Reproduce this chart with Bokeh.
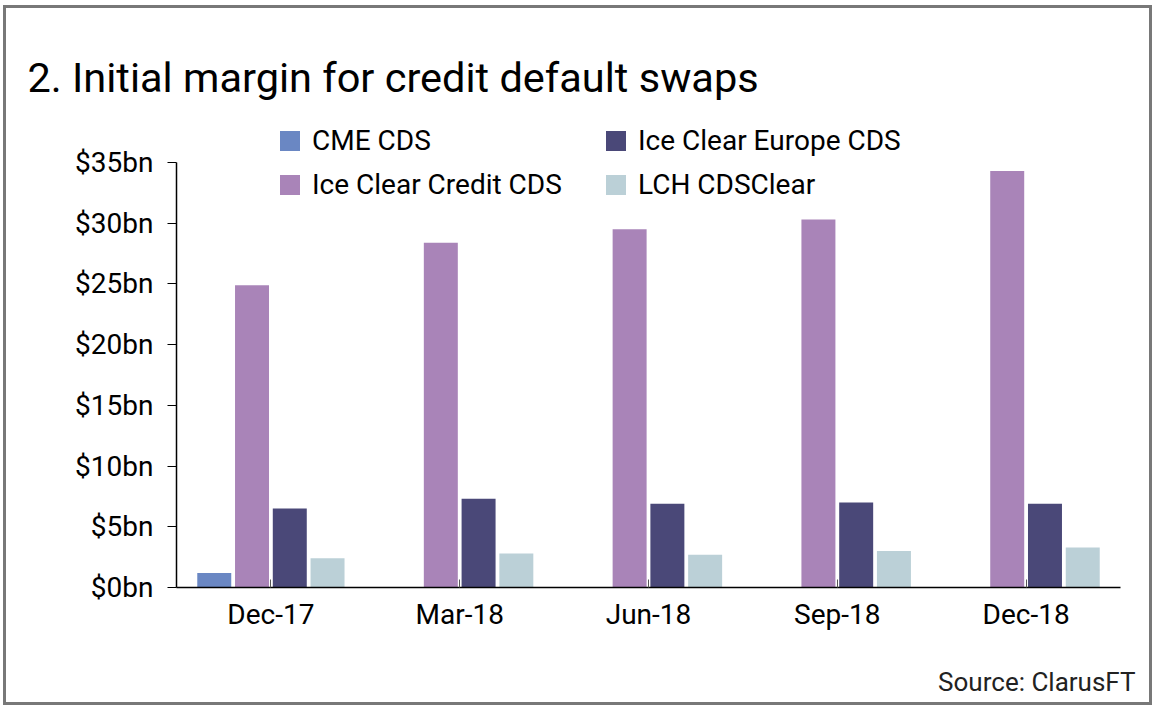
from bokeh.plotting import figure
from bokeh.models import (ColumnDataSource, FactorRange, Range1d, FixedTicker,
                          PrintfTickFormatter, Legend, LegendItem, Title)
from bokeh.transform import dodge
from bokeh.embed import file_html
from bokeh.resources import INLINE

# ---- data ----
dates = ["Dec-17", "Mar-18", "Jun-18", "Sep-18", "Dec-18"]
cme_cds = [1.2, 0.0, 0.0, 0.0, 0.0]
ice_clear_credit_cds = [24.9, 28.4, 29.5, 30.3, 34.3]
ice_clear_europe_cds = [6.5, 7.3, 6.9, 7.0, 6.9]
lch_cdsclear = [2.4, 2.8, 2.7, 3.0, 3.3]
series_names = ["CME CDS", "Ice Clear Credit CDS", "Ice Clear Europe CDS", "LCH CDSClear"]
y_ticks = [0, 5, 10, 15, 20, 25, 30, 35]

colors = ["#6a87c3", "#a984b8", "#4a4878", "#bbd0d7"]
FONT = "Roboto"

source = ColumnDataSource(dict(date=dates, cme=cme_cds, credit=ice_clear_credit_cds,
                               europe=ice_clear_europe_cds, lch=lch_cdsclear))

p = figure(width=1149, height=700, x_range=FactorRange(*dates), y_range=Range1d(0, 39.45),
           output_backend="svg", toolbar_location=None,
           min_border_left=170, min_border_right=35, min_border_top=100, min_border_bottom=121)
p.styles = {"margin": "5px 0 0 3px", "border": "3px solid #787878"}
p.x_range.range_padding = 0
p.outline_line_color = None
p.xgrid.visible = False
p.ygrid.visible = False
p.background_fill_color = "white"
p.border_fill_color = "white"

# title
p.title.text = "2. Initial margin for credit default swaps"
p.title.align = "left"
p.title.offset = -149
p.title.text_font = FONT
p.title.text_font_style = "normal"
p.title.text_font_size = "41.5px"
p.title.text_color = "black"
p.title.standoff = 14

cols = ["cme", "credit", "europe", "lch"]
offsets = [-0.3, -0.1, 0.1, 0.3]
renderers = []
for c, off, col in zip(cols, offsets, colors):
    r = p.vbar(x=dodge("date", off, range=p.x_range), top=c, width=0.18, bottom=0,
               source=source, fill_color=col, line_color=None)
    renderers.append(r)

# y axis
p.yaxis.ticker = FixedTicker(ticks=y_ticks)
p.yaxis.bounds = (0, 35)
p.yaxis.formatter = PrintfTickFormatter(format="$%dbn")
p.yaxis.major_tick_out = 9
p.yaxis.major_tick_in = 0
p.yaxis.minor_tick_out = 0
p.yaxis.minor_tick_in = 0
p.yaxis.major_label_standoff = 14
p.yaxis.major_label_text_font = FONT
p.yaxis.major_label_text_font_size = "28px"
p.yaxis.major_label_text_color = "black"
p.yaxis.axis_line_color = "black"
p.yaxis.axis_line_width = 1.5
p.yaxis.major_tick_line_color = "black"
p.yaxis.major_tick_line_width = 1.2

# x axis
p.xaxis.major_tick_in = 8
p.xaxis.major_tick_out = 0
p.xaxis.major_tick_line_color = "#555555"
p.xaxis.major_label_standoff = 10
p.xaxis.major_label_text_font = FONT
p.xaxis.major_label_text_font_size = "28px"
p.xaxis.major_label_text_color = "black"
p.xaxis.axis_line_color = "black"
p.xaxis.axis_line_width = 1.5

# legends (two columns)
def make_legend(idx, x, y):
    return Legend(items=[LegendItem(label=series_names[i], renderers=[renderers[i]]) for i in idx],
                  location=(x, y), orientation="vertical",
                  glyph_width=25, glyph_height=25, label_standoff=10, spacing=11,
                  padding=0, margin=0, border_line_color=None, background_fill_alpha=0,
                  label_text_font=FONT, label_text_font_size="28px", label_text_color="black")

p.add_layout(make_legend([0, 1], 101, 386), "center")
p.add_layout(make_legend([2, 3], 427, 386), "center")

# source (below the x axis)
p.add_layout(Title(text=" ", text_font_size="12px"), "below")
p.add_layout(Title(text="Source: ClarusFT", align="right", offset=-15, text_font=FONT,
                   text_font_size="26px", text_font_style="normal", text_color="#222222"), "below")

open("out.html", "w").write(file_html(p, INLINE))
